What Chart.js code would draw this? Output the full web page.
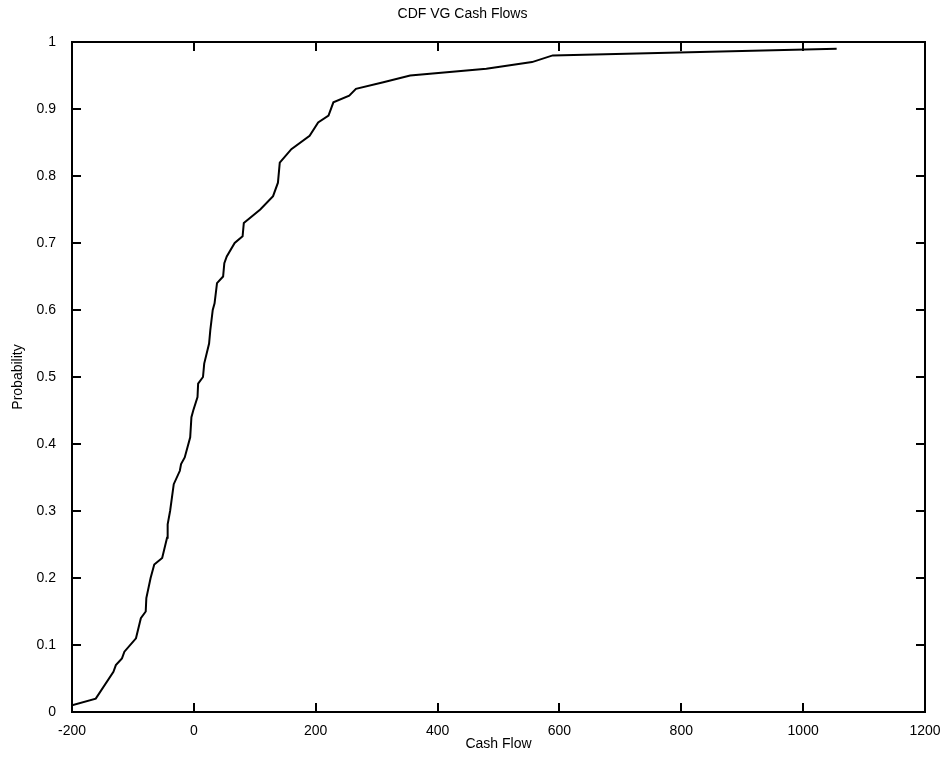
<!DOCTYPE html>
<html>
<head>
<meta charset="utf-8">
<script src="https://cdn.jsdelivr.net/npm/chart.js@4/dist/chart.umd.min.js"></script>
<style>
  html, body { margin: 0; padding: 0; background: #fff; }
  #wrap { width: 951px; height: 770px; }
</style>
</head>
<body>
<div id="wrap"><canvas id="cdf-chart"></canvas></div>
<script>
// sorted cash flows and their empirical cumulative probability
const cashFlow = [-200, -161, -132, -128, -118, -114, -95, -87, -79, -78, -71, -65, -52, -44, -43,
  -39, -36, -33, -23, -21, -15, -6, -4, -1, 6, 7, 15, 17, 25, 27, 31, 34, 38, 48, 50, 54,
  67, 80, 82, 109, 130, 138, 141, 160, 190, 204, 221, 229, 255, 266, 311, 355, 480, 555, 589, 1055];
const probability = [0.01, 0.02, 0.06, 0.07, 0.08, 0.09, 0.11, 0.14, 0.15, 0.17, 0.20, 0.22, 0.23, 0.26, 0.28,
  0.30, 0.32, 0.34, 0.36, 0.37, 0.38, 0.41, 0.44, 0.45, 0.47, 0.49, 0.50, 0.52, 0.55, 0.57, 0.60, 0.61, 0.64, 0.65, 0.67, 0.68,
  0.70, 0.71, 0.73, 0.75, 0.77, 0.79, 0.82, 0.84, 0.86, 0.88, 0.89, 0.91, 0.92, 0.93, 0.94, 0.95, 0.96, 0.97, 0.98, 0.99];

const FONT = 'Liberation Sans, Arial, sans-serif';
const TICK_LEN = 9;

// matlab style box with inward ticks on all four sides
const boxTicks = {
  id: 'boxTicks',
  afterDraw(chart) {
    const { ctx, chartArea: a, scales: { x, y } } = chart;
    ctx.save();
    ctx.strokeStyle = '#000';
    ctx.lineWidth = 2;
    ctx.beginPath();
    x.ticks.forEach((t) => {
      const px = Math.round(x.getPixelForValue(t.value));
      ctx.moveTo(px, a.bottom); ctx.lineTo(px, a.bottom - TICK_LEN);
      ctx.moveTo(px, a.top); ctx.lineTo(px, a.top + TICK_LEN);
    });
    y.ticks.forEach((t) => {
      const py = Math.round(y.getPixelForValue(t.value));
      ctx.moveTo(a.left, py); ctx.lineTo(a.left + TICK_LEN, py);
      ctx.moveTo(a.right, py); ctx.lineTo(a.right - TICK_LEN, py);
    });
    ctx.stroke();
    ctx.strokeRect(a.left, a.top, a.right - a.left, a.bottom - a.top);
    ctx.restore();
  }
};

new Chart(document.getElementById('cdf-chart').getContext('2d'), {
  type: 'line',
  data: {
    datasets: [{
      data: cashFlow.map((v, i) => ({ x: v, y: probability[i] })),
      borderColor: '#000',
      borderWidth: 2,
      pointRadius: 0,
      tension: 0,
      fill: false
    }]
  },
  options: {
    responsive: true,
    maintainAspectRatio: false,
    animation: false,
    layout: { padding: { left: 0, right: 26, top: 0, bottom: 0 } },
    plugins: {
      legend: { display: false },
      tooltip: { enabled: false },
      title: {
        display: true,
        text: 'CDF VG Cash Flows',
        color: '#000',
        font: { family: FONT, size: 14, weight: 'normal' },
        padding: { top: 6, bottom: 19.2 }
      }
    },
    scales: {
      x: {
        type: 'linear',
        min: -200, max: 1200,
        grid: { display: false },
        border: { display: false },
        ticks: { stepSize: 200, color: '#000', padding: 3, maxRotation: 0,
                 font: { family: FONT, size: 14 },
                 callback: (v) => String(v) },
        title: { display: true, text: 'Cash Flow', color: '#000',
                 font: { family: FONT, size: 14 }, padding: { top: 0, bottom: 17 } },
        afterFit: (s) => { s.height = 58; }
      },
      y: {
        min: 0, max: 1,
        grid: { display: false },
        border: { display: false },
        ticks: { stepSize: 0.1, color: '#000', padding: 8,
                 font: { family: FONT, size: 14 },
                 callback: (v) => String(Math.round(v * 10) / 10) },
        title: { display: true, text: 'Probability', color: '#000',
                 font: { family: FONT, size: 14 }, padding: { top: 10, bottom: 0 } },
        afterFit: (s) => { s.width = 72; }
      }
    }
  },
  plugins: [boxTicks]
});
</script>
</body>
</html>
